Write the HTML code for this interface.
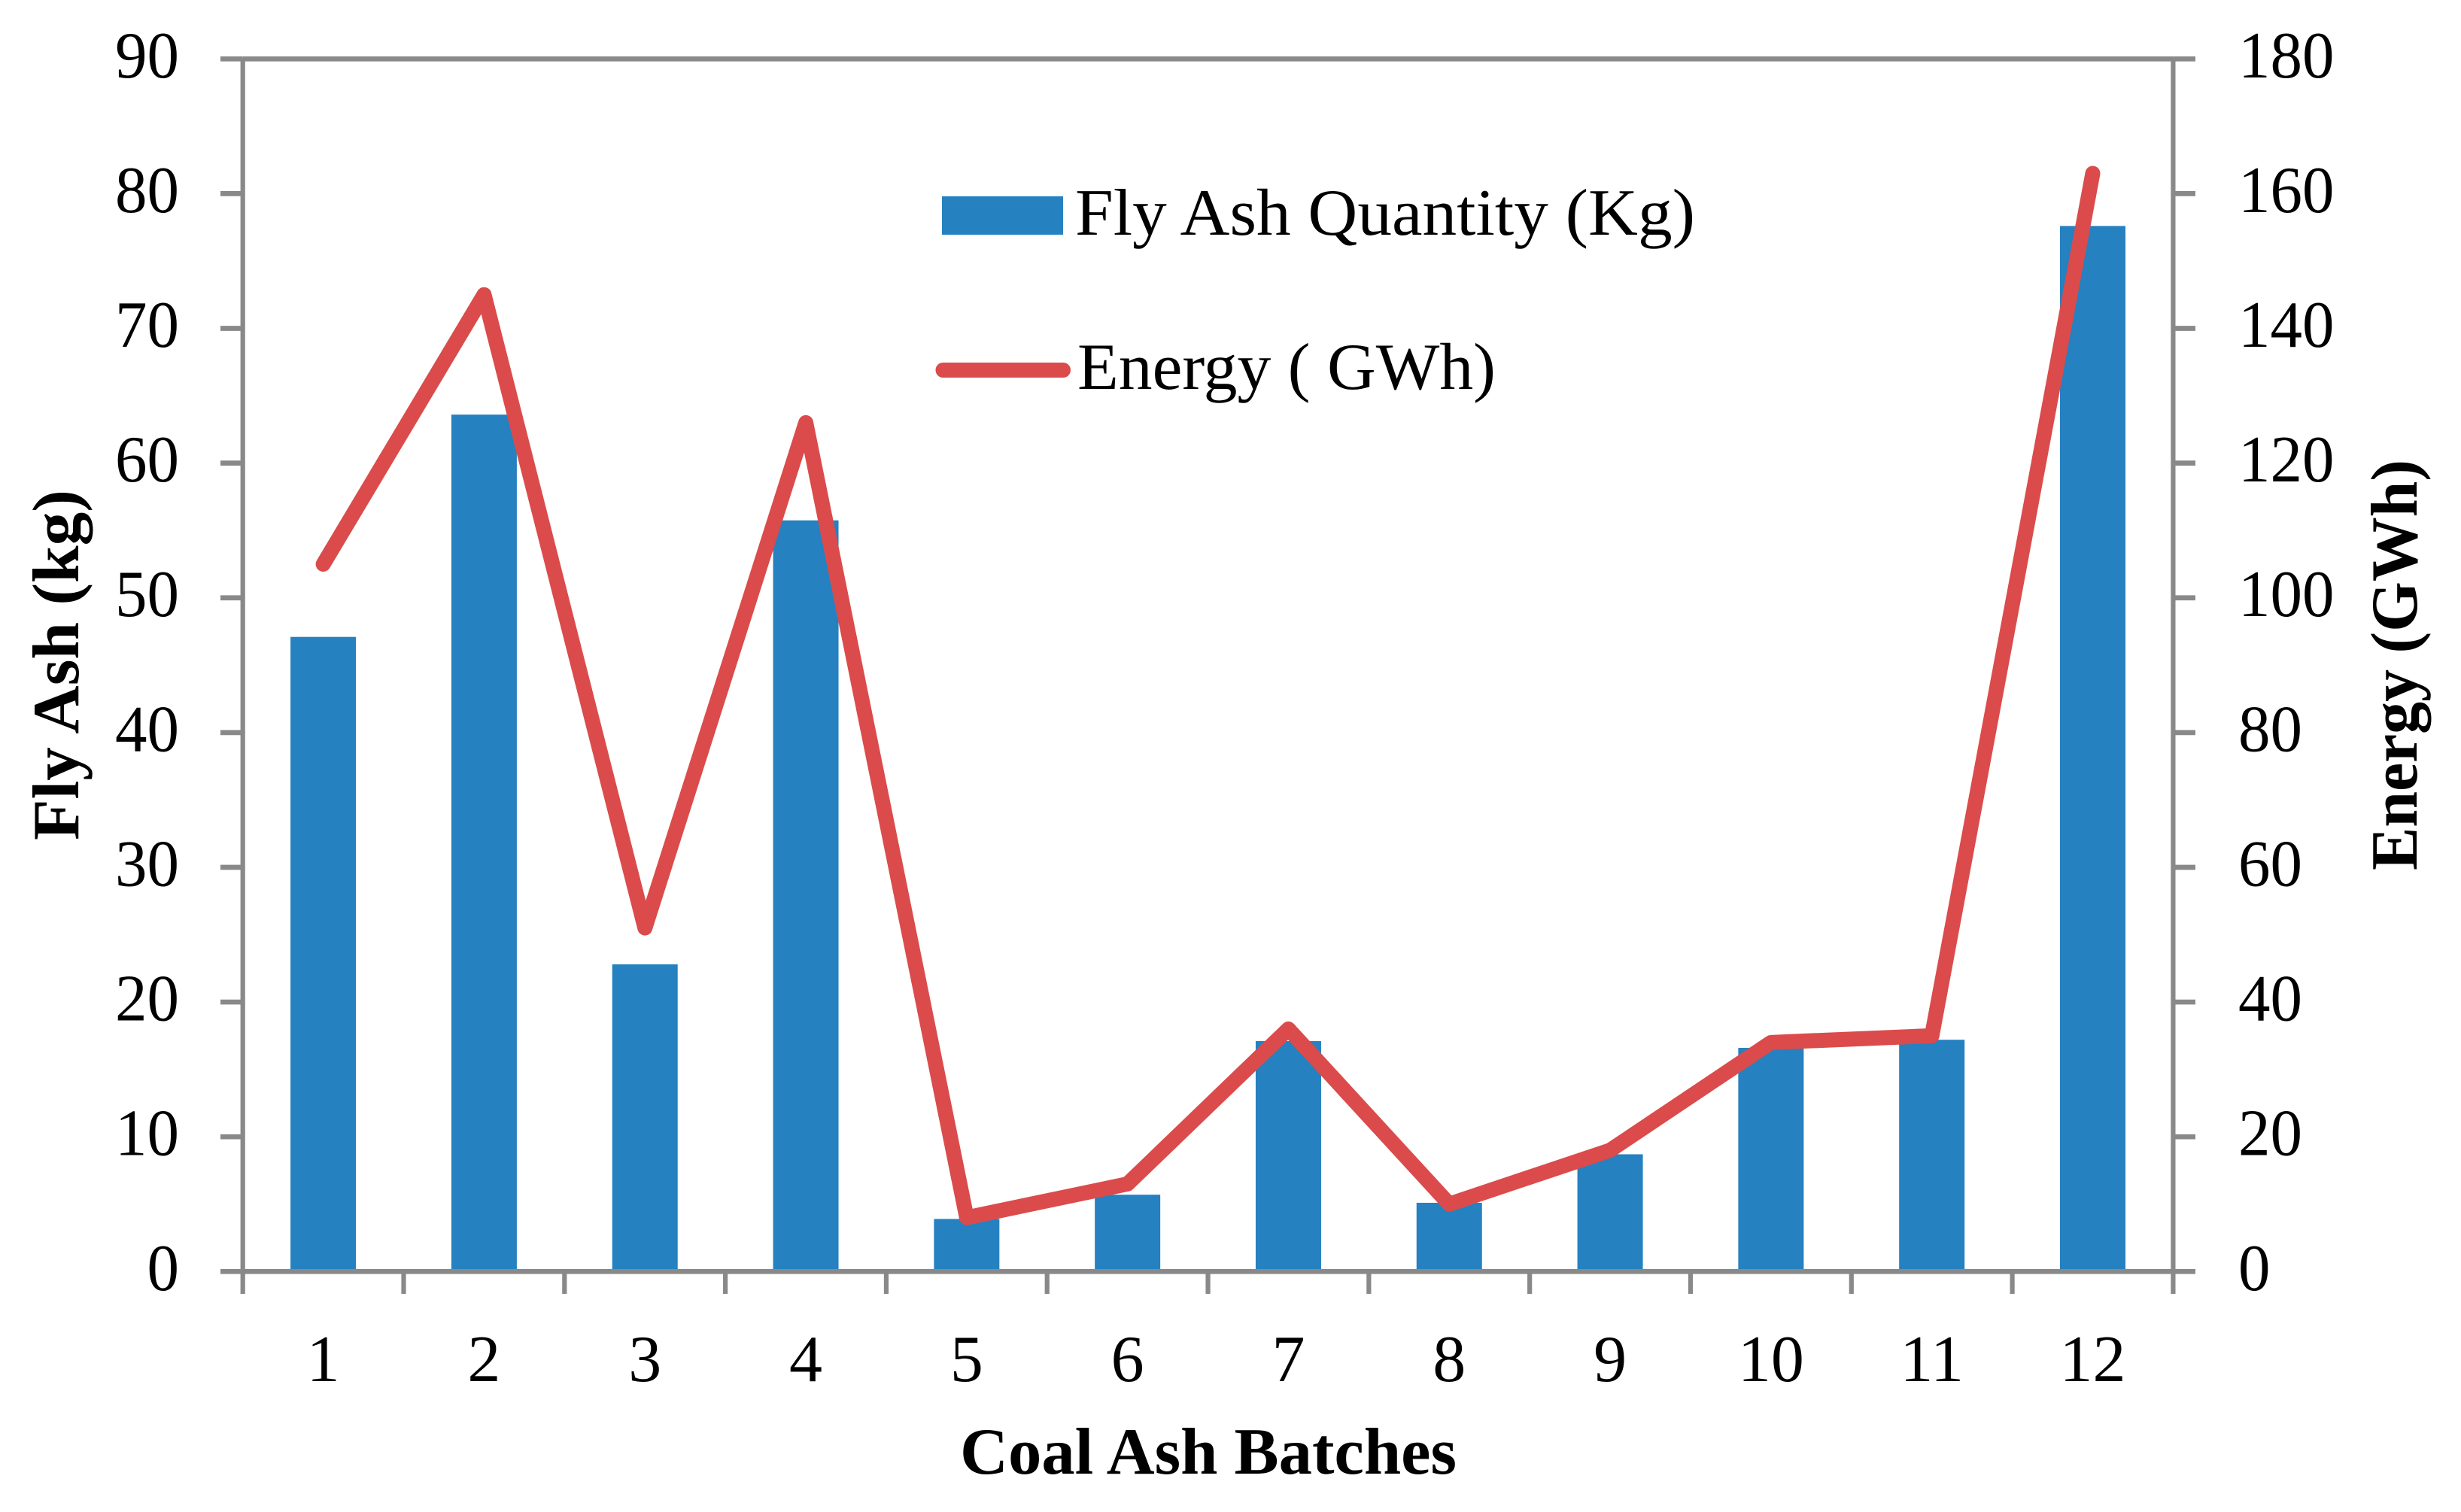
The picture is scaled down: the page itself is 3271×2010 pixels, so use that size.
<!DOCTYPE html>
<html lang="en">
<head>
<meta charset="utf-8">
<title>Fly Ash and Energy by Coal Ash Batch</title>
<style>
html,body{margin:0;padding:0;background:#fff;}
svg{display:block;}
text{font-family:"Liberation Serif","DejaVu Serif",serif;fill:#000;}
.tick{font-size:88px;}
.title{font-size:88px;font-weight:bold;}
</style>
</head>
<body>
<svg id="chart" xmlns="http://www.w3.org/2000/svg" width="3271" height="2010" viewBox="0 0 3271 2010">
<rect x="0" y="0" width="3271" height="2010" fill="#ffffff"/>
<g id="bars"></g>
<g id="axes"></g>
<polyline id="energy-line" fill="none" stroke="#DB4B4B" stroke-width="20" stroke-linecap="round" stroke-linejoin="round"/>
<g id="labels"></g>
<g>
<rect x="1252" y="261" width="161" height="51" fill="#2581C0"/>
<text class="tick" x="1429" y="312" textLength="824" lengthAdjust="spacingAndGlyphs">Fly Ash Quantity (Kg)</text>
<line x1="1253.5" y1="492" x2="1413" y2="492" stroke="#DB4B4B" stroke-width="20" stroke-linecap="round"/>
<text class="tick" x="1432" y="517" textLength="556" lengthAdjust="spacingAndGlyphs">Energy ( GWh)</text>
</g>
<text class="title" x="1276" y="1959" textLength="660" lengthAdjust="spacingAndGlyphs">Coal Ash Batches</text>
<text class="title" transform="translate(104,1117) rotate(-90)" x="0" y="0" textLength="466" lengthAdjust="spacingAndGlyphs">Fly Ash (kg)</text>
<text class="title" transform="translate(3212,1157) rotate(-90)" x="0" y="0" textLength="546" lengthAdjust="spacingAndGlyphs">Energy (GWh)</text>
</svg>
<script>
const categories = ['1','2','3','4','5','6','7','8','9','10','11','12'];
const flyAshValues = [47.1,63.6,22.8,55.75,3.9,5.7,17.1,5.1,8.7,16.6,17.2,77.6];
const energyValues = [105,145,51,126,8,13,36,10,18,34,35,163];
const leftTicks = [0,10,20,30,40,50,60,70,80,90];
const rightTicks = [0,20,40,60,80,100,120,140,160,180];

const NS = 'http://www.w3.org/2000/svg';
const AXIS_COLOR = '#898989';
const plot = {left: 322.7, right: 2888.4, top: 78.3, bottom: 1690.3};
const leftMax = 90;
const rightMax = 180;
const barWidth = 87;

function bandX(i) {
  return plot.left + (i + 0.5) * (plot.right - plot.left) / categories.length;
}
function edgeX(i) {
  return plot.left + i * (plot.right - plot.left) / categories.length;
}
function yLeft(v) {
  return plot.bottom - (v / leftMax) * (plot.bottom - plot.top);
}
function yRight(v) {
  return plot.bottom - (v / rightMax) * (plot.bottom - plot.top);
}
function axisLine(parent, x1, y1, x2, y2, w, name) {
  const l = document.createElementNS(NS, 'line');
  l.setAttribute('x1', x1);
  l.setAttribute('y1', y1);
  l.setAttribute('x2', x2);
  l.setAttribute('y2', y2);
  l.setAttribute('stroke', AXIS_COLOR);
  l.setAttribute('stroke-width', w);
  
  
  parent.appendChild(l);
}
function label(parent, x, y, str, anchor, name, digitWidth) {
  const t = document.createElementNS(NS, 'text');
  t.setAttribute('x', x);
  t.setAttribute('y', y);
  t.setAttribute('text-anchor', anchor);
  t.setAttribute('class', 'tick');
  
  
  if (digitWidth) {
    t.setAttribute('textLength', str.length * digitWidth);
    t.setAttribute('lengthAdjust', 'spacingAndGlyphs');
  }
  t.textContent = str;
  parent.appendChild(t);
}

const barsG = document.getElementById('bars');
flyAshValues.forEach(function (v, i) {
  const r = document.createElementNS(NS, 'rect');
  r.setAttribute('x', bandX(i) - barWidth / 2);
  r.setAttribute('y', yLeft(v));
  r.setAttribute('width', barWidth);
  r.setAttribute('height', plot.bottom - yLeft(v));
  r.setAttribute('fill', '#2581C0');
  
  
  barsG.appendChild(r);
});

const axesG = document.getElementById('axes');
axisLine(axesG, plot.left, plot.top, plot.left, plot.bottom, 6.2, 'left-y-axis-line');
axisLine(axesG, plot.right, plot.top, plot.right, plot.bottom, 6.2, 'right-y-axis-line');
leftTicks.forEach(function (v) {
  axisLine(axesG, 293, yLeft(v), plot.left, yLeft(v), 6.7, 'left-tick-' + v);
});
rightTicks.forEach(function (v) {
  axisLine(axesG, plot.right, yRight(v), 2918, yRight(v), 6.7, 'right-tick-' + v);
});
axisLine(axesG, plot.left, plot.top, plot.right, plot.top, 6.7, 'top-axis-line');
axisLine(axesG, plot.left, plot.bottom, plot.right, plot.bottom, 6.7, 'x-axis-line');
for (let i = 0; i <= categories.length; i++) {
  axisLine(axesG, edgeX(i), plot.bottom, edgeX(i), 1720, 6.2, 'x-tick-' + i);
}

document.getElementById('energy-line').setAttribute('points', energyValues.map(function (v, i) {
  return bandX(i) + ',' + yRight(v);
}).join(' '));

const labelsG = document.getElementById('labels');
leftTicks.forEach(function (v) {
  label(labelsG, 238, yLeft(v) + 24.5, String(v), 'end', 'left-tick-label-' + v, 42.5);
});
rightTicks.forEach(function (v) {
  label(labelsG, 2975, yRight(v) + 24.5, String(v), 'start', 'right-tick-label-' + v, 42.5);
});
categories.forEach(function (c, i) {
  label(labelsG, bandX(i), 1836, c, 'middle', 'x-tick-label-' + c, 0);
});
</script>
</body>
</html>
